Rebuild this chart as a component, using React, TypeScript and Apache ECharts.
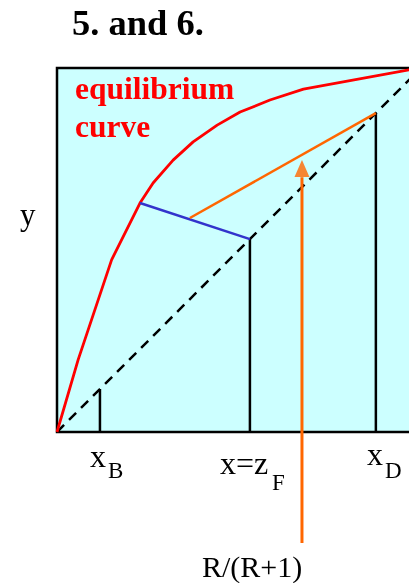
import React, { useEffect, useRef } from "react";
import * as echarts from "echarts";

// Equilibrium curve (x, y mole fractions)
const eqX = [0, 0.058, 0.15, 0.228, 0.264, 0.319, 0.374, 0.44, 0.503, 0.585, 0.677, 0.967, 1.0];
const eqY = [0, 0.198, 0.473, 0.629, 0.684, 0.747, 0.797, 0.843, 0.879, 0.912, 0.942, 0.995, 1.0];

// Key compositions
const xB = 0.118;
const zF = 0.53;
const xD = 0.876;

// Feed (q) line: from equilibrium curve to diagonal at zF
const qLineX = [0.228, zF];
const qLineY = [0.629, zF];

// Rectifying operating line
const opLineX = [0.365, xD];
const opLineY = [0.588, xD];

// Arrow pointing at the operating line (R/(R+1))
const arrowX = 0.673;
const arrowShaftY = [-0.305, 0.7];
const arrowHeadY = 0.724;

const FONT = '"Liberation Serif", "Times New Roman", serif';

export default function App() {
  const ref = useRef<HTMLDivElement>(null);
  useEffect(() => {
    if (!ref.current) return;
    const chart = echarts.init(ref.current, undefined, { renderer: "svg" });
    const line = (xs: number[], ys: number[]) => xs.map((x, i) => [x, ys[i]]);
    const verticals = [xB, zF, xD].map((v) => ({
      type: "line",
      data: [[v, 0], [v, v]],
      symbol: "none",
      lineStyle: { color: "#000", width: 2.5 },
      z: 2,
    }));
    const text = (t: string, x: number, baseline: number, size: number, color = "#000", bold = false) => ({
      type: "text",
      x,
      y: baseline - size * 0.84,
      style: {
        text: t,
        font: `${bold ? "bold " : ""}${size}px ${FONT}`,
        fill: color,
        align: "left",
        verticalAlign: "top",
      },
      z: 100,
    });
    chart.setOption({
      animation: false,
      grid: {
        left: 57,
        top: 68,
        width: 364,
        height: 364,
        outerBoundsMode: "none",
        containLabel: false,
        show: true,
        backgroundColor: "#ccffff",
        borderColor: "#000",
        borderWidth: 2.5,
      },
      xAxis: { type: "value", min: 0, max: 1, show: false },
      yAxis: { type: "value", min: 0, max: 1, show: false },
      series: [
        {
          type: "line",
          data: [[0, 0], [1, 1]],
          symbol: "none",
          lineStyle: { color: "#000", width: 2.5, type: [10, 7] },
          z: 3,
        },
        ...verticals,
        {
          type: "line",
          data: line(eqX, eqY),
          symbol: "none",
          lineStyle: { color: "#ff0000", width: 2.8 },
          z: 4,
        },
        {
          type: "line",
          data: line(qLineX, qLineY),
          symbol: "none",
          lineStyle: { color: "#3333cc", width: 2.5 },
          z: 4,
        },
        {
          type: "line",
          data: line(opLineX, opLineY),
          symbol: "none",
          lineStyle: { color: "#ff6600", width: 2.5 },
          z: 4,
        },
        {
          type: "line",
          data: arrowShaftY.map((y) => [arrowX, y]),
          symbol: "none",
          clip: false,
          lineStyle: { color: "#ff6600", width: 3 },
          z: 5,
        },
        {
          type: "scatter",
          data: [[arrowX, arrowHeadY]],
          symbol: "triangle",
          symbolSize: [15, 17],
          itemStyle: { color: "#ff6600" },
          z: 5,
        },
      ],
      graphic: [
        text("5. and 6.", 72, 35, 36.5, "#000", true),
        text("equilibrium", 75, 99, 31.5, "#ff0000", true),
        text("curve", 75, 137, 31.5, "#ff0000", true),
        text("y", 20, 225, 31),
        text("x", 90, 467, 32),
        text("B", 108, 478, 23),
        text("x=z", 220, 474, 32),
        text("F", 272, 490, 23),
        text("x", 367, 465, 32),
        text("D", 385, 478, 23),
        text("R/(R+1)", 202, 577, 30),
      ],
    });
    return () => chart.dispose();
  }, []);
  return (
    <div
      ref={ref}
      style={{ position: "fixed", left: 0, top: 0, width: 409, height: 583 }}
    />
  );
}
